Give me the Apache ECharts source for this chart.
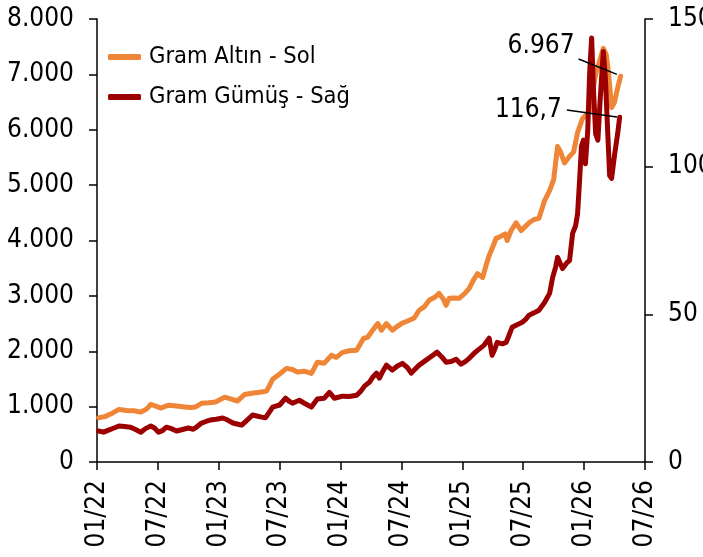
<!DOCTYPE html>
<html><head><meta charset="utf-8">
<script src="https://cdn.jsdelivr.net/npm/echarts@6/dist/echarts.min.js"></script>
<style>html,body{margin:0;padding:0;background:#fff}#c{width:703px;height:557px}</style>
</head><body><div id="c"></div>
<script>
const xTickLabels = ['01/22','07/22','01/23','07/23','01/24','07/24','01/25','07/25','01/26','07/26'];
const seriesNames = ['Gram Altın - Sol', 'Gram Gümüş - Sağ'];

const goldDates = ['2022-01-06','2022-01-25','2022-02-12','2022-03-06','2022-03-29','2022-04-20','2022-05-11','2022-05-29','2022-06-10','2022-06-25','2022-07-09','2022-08-03','2022-08-27','2022-09-20','2022-10-08','2022-10-23','2022-11-10','2022-12-01','2022-12-22',
'2023-01-19','2023-02-06','2023-02-24','2023-03-18','2023-04-08','2023-05-02','2023-05-23','2023-06-01','2023-06-10','2023-07-01','2023-07-22','2023-08-09','2023-08-24','2023-09-14','2023-10-05','2023-10-23','2023-11-13','2023-12-04','2023-12-19',
'2024-01-07','2024-01-28','2024-02-18','2024-03-09','2024-03-21','2024-04-06','2024-04-21','2024-05-02','2024-05-17','2024-06-04','2024-06-19','2024-07-01','2024-07-25','2024-08-09','2024-08-24','2024-09-08','2024-09-23','2024-10-11','2024-10-23','2024-11-04','2024-11-13','2024-11-22','2024-12-07','2024-12-22',
'2025-01-08','2025-01-22','2025-02-03','2025-02-15','2025-03-01','2025-03-12','2025-03-21','2025-04-02','2025-04-11','2025-04-20','2025-04-29','2025-05-08','2025-05-14','2025-05-26','2025-06-10','2025-06-25','2025-07-07','2025-07-19','2025-08-03','2025-08-18','2025-09-04','2025-09-19','2025-10-01','2025-10-13','2025-10-22','2025-11-03','2025-11-18','2025-11-30','2025-12-12','2025-12-27',
'2026-01-09','2026-01-18','2026-01-27','2026-02-05','2026-02-14','2026-02-26','2026-03-07','2026-03-14','2026-03-23','2026-04-01','2026-04-10','2026-04-19'];
const goldValues = [800,820,870,950,930,925,900,960,1040,1010,975,1025,1010,995,985,995,1060,1070,1085,
1170,1140,1100,1220,1240,1260,1280,1380,1495,1590,1690,1670,1625,1640,1600,1800,1785,1925,1890,
1980,2010,2020,2230,2250,2380,2500,2380,2500,2380,2450,2500,2560,2600,2740,2800,2920,2980,3045,2950,2830,2955,2960,2955,
3040,3135,3280,3400,3330,3560,3730,3900,4040,4060,4090,4120,4000,4180,4320,4180,4250,4320,4380,4400,4720,4900,5100,5700,5600,5400,5520,5600,5950,6200,
6280,6350,6700,7000,7200,7470,7350,7000,6400,6500,6750,6967];

const silverDates = ['2022-01-06','2022-01-21','2022-02-05','2022-02-20','2022-03-06','2022-03-23','2022-04-10','2022-04-25','2022-05-11','2022-05-25','2022-06-10','2022-06-21','2022-07-03','2022-07-15','2022-07-27','2022-08-11','2022-08-27','2022-09-14','2022-10-01','2022-10-16','2022-10-28','2022-11-10','2022-11-25','2022-12-06','2022-12-24',
'2023-01-13','2023-01-28','2023-02-12','2023-02-26','2023-03-09','2023-03-24','2023-04-11','2023-04-26','2023-05-08','2023-05-20','2023-05-26','2023-06-04','2023-06-10','2023-07-01','2023-07-19','2023-07-31','2023-08-09','2023-08-21','2023-08-30','2023-09-14','2023-10-05','2023-10-14','2023-10-23','2023-11-13','2023-11-28','2023-12-13','2023-12-28',
'2024-01-07','2024-01-28','2024-02-18','2024-03-01','2024-03-12','2024-03-27','2024-04-06','2024-04-17','2024-04-26','2024-05-05','2024-05-17','2024-06-04','2024-06-19','2024-07-04','2024-07-19','2024-07-31','2024-08-12','2024-08-24','2024-09-14','2024-10-02','2024-10-17','2024-11-01','2024-11-13','2024-11-28','2024-12-13','2024-12-28',
'2025-01-10','2025-01-22','2025-02-03','2025-02-15','2025-03-05','2025-03-21','2025-03-30','2025-04-08','2025-04-14','2025-04-29','2025-05-11','2025-05-20','2025-05-29','2025-06-13','2025-06-28','2025-07-10','2025-07-19','2025-08-03','2025-08-18','2025-09-04','2025-09-19','2025-09-28','2025-10-07','2025-10-13','2025-10-22','2025-10-28','2025-11-10','2025-11-18','2025-11-27','2025-12-06','2025-12-12','2025-12-18','2025-12-24','2025-12-30','2026-01-05',
'2026-01-12','2026-01-18','2026-01-24','2026-01-30','2026-02-05','2026-02-11','2026-02-17','2026-02-26','2026-03-04','2026-03-11','2026-03-17','2026-03-23','2026-04-01','2026-04-10','2026-04-16'];
const silverValues = [10.5,10.1,10.8,11.5,12.2,12.0,11.8,11.0,10.1,11.3,12.2,11.5,10.1,10.6,11.8,11.3,10.5,11.0,11.5,11.1,12.0,13.2,13.8,14.2,14.5,
14.9,14.2,13.2,12.8,12.5,14.0,15.9,15.5,15.2,15.0,15.2,17.5,18.6,19.3,21.6,20.5,19.9,20.5,20.9,19.9,18.6,20.0,21.3,21.6,23.6,21.6,22.0,
22.3,22.2,22.6,24.0,25.7,27.0,28.7,30.1,28.4,30.5,32.8,31.1,32.5,33.4,32.0,30.1,31.5,32.8,34.5,36.0,37.2,35.5,33.8,34.0,34.8,33.1,
34.0,35.1,36.5,37.8,39.5,41.9,36.1,38.5,40.5,40.0,40.5,43.0,45.6,46.5,47.3,48.5,49.7,50.5,51.4,54.0,57.1,62.5,66.0,69.3,67.0,65.5,67.5,68.2,77.4,80.0,84.0,95.0,107.0,109.0,101.0,
112.0,132.0,143.6,125.0,111.0,109.0,122.0,139.0,130.0,112.0,97.0,96.0,104.0,111.0,116.7];

// Annotations: label text, label anchor, leader line ends
const goldNoteText = '6.967';
const goldNoteAnchor = ['2025-12-15', 7512];
const goldLeader = [['2026-04-08', 7000], ['2025-12-15', 7277]];
const silverNoteText = '116,7';
const silverNoteAnchor = ['2025-11-07', 119.2];
const silverLeader = [['2026-04-08', 116.8], ['2025-11-10', 119.2]];

function mi(s){
  const p = s.split('-').map(Number);
  const dim = new Date(p[0], p[1], 0).getDate();
  return (p[0]-2022)*12 + (p[1]-1) + (p[2]-1)/dim;
}
const FONT = "'DejaVu Sans Condensed', 'DejaVu Sans', sans-serif";
const goldData = goldDates.map((d,i)=>[mi(d), goldValues[i]]);
const silverData = silverDates.map((d,i)=>[mi(d), silverValues[i]]);
const pt = a => [mi(a[0]), a[1]];

const axisCommon = {
  axisLine:{show:true, lineStyle:{color:'#000', width:1.5}},
  axisTick:{show:true, inside:false, length:8, lineStyle:{color:'#000', width:1.5}},
  splitLine:{show:false},
};
const chart = echarts.init(document.getElementById('c'), null, {renderer:'canvas'});
chart.setOption({
  animation:false,
  backgroundColor:'#fff',
  grid:{left:97, right:58, top:19, bottom:95, containLabel:false, outerBoundsMode:'none'},
  legend:{
    data:seriesNames, orient:'vertical', left:103, top:38,
    icon:'roundRect', itemWidth:33, itemHeight:6, itemGap:12,
    textStyle:{fontSize:23.5, fontFamily:FONT, color:'#000', padding:[0,0,0,3], lineHeight:28}
  },
  xAxis:Object.assign({}, axisCommon, {
    type:'value', min:0, max:54, interval:6,
    axisLabel:{rotate:90, margin:18, fontSize:26, fontFamily:FONT, color:'#000',
      formatter: v => xTickLabels[Math.round(v/6)] || ''}
  }),
  yAxis:[
    Object.assign({}, axisCommon, {
      type:'value', min:0, max:8000, interval:1000, position:'left',
      axisLabel:{margin:23, fontSize:26, fontFamily:FONT, color:'#000',
        formatter: v => v===0 ? '0' : (v/1000)+'.000'}
    }),
    Object.assign({}, axisCommon, {
      type:'value', min:0, max:150, interval:50, position:'right',
      axisLabel:{margin:23, fontSize:26, fontFamily:FONT, color:'#000'}
    })
  ],
  series:[
    {
      name:seriesNames[0], type:'line', yAxisIndex:0, data:goldData,
      showSymbol:false, symbol:'none', color:'#EF8536',
      lineStyle:{width:5, color:'#EF8536', cap:'round', join:'round'},
      markLine:{silent:true, symbol:['none','none'], label:{show:false},
        lineStyle:{color:'#000', width:1.5, type:'solid'},
        data:[[{coord:pt(goldLeader[0])},{coord:pt(goldLeader[1])}]]},
      markPoint:{silent:true, symbol:'circle', symbolSize:0,
        label:{show:true, position:'left', distance:4, fontSize:26, fontFamily:FONT, color:'#000', formatter:goldNoteText},
        data:[{coord:pt(goldNoteAnchor)}]}
    },
    {
      name:seriesNames[1], type:'line', yAxisIndex:1, data:silverData,
      showSymbol:false, symbol:'none', color:'#9C0000',
      lineStyle:{width:5, color:'#9C0000', cap:'round', join:'round'},
      markLine:{silent:true, symbol:['none','none'], label:{show:false},
        lineStyle:{color:'#000', width:1.5, type:'solid'},
        data:[[{coord:pt(silverLeader[0])},{coord:pt(silverLeader[1])}]]},
      markPoint:{silent:true, symbol:'circle', symbolSize:0,
        label:{show:true, position:'left', distance:4, fontSize:26, fontFamily:FONT, color:'#000', formatter:silverNoteText},
        data:[{coord:pt(silverNoteAnchor)}]}
    }
  ]
});
</script></body></html>
